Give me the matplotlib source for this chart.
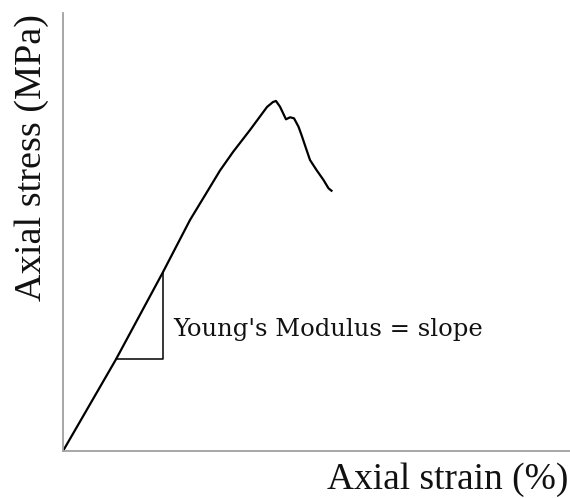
import matplotlib
matplotlib.use("Agg")
import matplotlib.pyplot as plt

# Stress-strain curve of a rock specimen under uniaxial compression
strain = [0.0, 1.06, 1.99, 2.54, 2.88, 3.14, 3.40, 3.74, 4.08, 4.20, 4.26,
          4.34, 4.46, 4.54, 4.62, 4.71, 4.77, 4.86, 4.94, 5.07, 5.21, 5.31, 5.37]
stress = [0.0, 9.17, 17.8, 23.1, 25.9, 28.05, 29.9, 32.1, 34.4, 34.9, 35.0,
          34.43, 33.17, 33.37, 33.27, 32.43, 31.6, 30.27, 29.1, 28.1, 27.1, 26.27, 26.03]

# Slope triangle on the linear elastic part
tri_strain = [1.06, 1.99, 1.99]
tri_stress = [9.17, 9.17, 17.8]

W, H = 570, 498
fig = plt.figure(figsize=(W / 100, H / 100), dpi=100)
ax = fig.add_axes([63 / W, (H - 451) / H, (W - 63) / W, (451 - 13) / H])
ax.set_xlim(0, (W - 63) / 50)
ax.set_ylim(0, (451 - 13) / 10)

ax.plot(strain, stress, color="black", lw=1.6, solid_joinstyle="round")
ax.plot(tri_strain, tri_stress, color="black", lw=1.1)

for s in ("top", "right"):
    ax.spines[s].set_visible(False)
for s in ("left", "bottom"):
    ax.spines[s].set_color("#a0a0a0")
    ax.spines[s].set_linewidth(1.3)
ax.set_xticks([])
ax.set_yticks([])

serif = "Liberation Serif"
ax.text(2.2, 11.5, "Young's Modulus = slope", fontsize=17.5, family="DejaVu Serif",
        ha="left", va="baseline", color="#111111")

fig.text(568 / W, 1 - 489 / H, "Axial strain (%)", fontsize=27, family=serif,
         ha="right", va="baseline", color="#111111")
fig.text(32 / W, 1 - 14 / H, "Axial stress (MPa)", fontsize=27.5, family=serif,
         ha="center", va="top", rotation=90, color="#111111")

fig.savefig("out.png", dpi=100)
